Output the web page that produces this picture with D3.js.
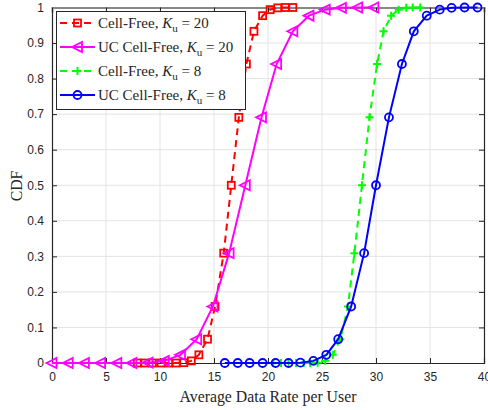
<!DOCTYPE html>
<html>
<head>
<meta charset="utf-8">
<script src="https://cdn.jsdelivr.net/npm/d3@7"></script>
<style>
  body { margin: 0; background: #fff; }
  svg { display: block; }
</style>
</head>
<body>
<div id="container"></div>
<script>
// values
const cdfLevels = [0, 0, 0, 0, 0, 0, 0.001, 0.006, 0.023, 0.067, 0.159, 0.309, 0.5, 0.691, 0.841, 0.933, 0.977, 0.994, 0.999, 1, 1];

const cfK20Rate = [7.9, 8.6, 9.3, 10.1, 10.8, 11.5, 12.2, 12.9, 13.6, 14.4, 15.1, 15.9, 16.6, 17.3, 18.0, 18.7, 19.5, 20.2, 20.9, 21.6, 22.3];
const ucK20Rate = [0, 1.5, 3.0, 4.5, 6.0, 7.4, 8.9, 10.4, 11.9, 13.4, 14.9, 16.4, 17.9, 19.4, 20.8, 22.3, 23.8, 25.3, 26.8, 28.3, 29.8];
const cfK8Rate = [20.5, 21.2, 21.9, 22.6, 23.3, 23.9, 24.6, 25.3, 26.0, 26.7, 27.4, 28.0, 28.7, 29.4, 30.1, 30.7, 31.4, 32.1, 32.8, 33.4, 34.1];
const ucK8Rate = [16.0, 17.2, 18.3, 19.5, 20.7, 21.9, 23.0, 24.2, 25.4, 26.5, 27.7, 28.9, 30.0, 31.2, 32.4, 33.5, 34.7, 35.9, 37.0, 38.2, 39.4];

const seriesNames = ["Cell-Free, ", "UC Cell-Free, ", "Cell-Free, ", "UC Cell-Free, "];
const seriesK = ["20", "20", "8", "8"];
const xTicks = [0, 5, 10, 15, 20, 25, 30, 35, 40];
const yTicks = [0, 0.1, 0.2, 0.3, 0.4, 0.5, 0.6, 0.7, 0.8, 0.9, 1];

const series = [
    {x: cfK20Rate, y: cdfLevels, color: "#ff0000", dash: "7,5", marker: "square"},
    {x: ucK20Rate, y: cdfLevels, color: "#ff00ff", dash: null, marker: "triangle"},
    {x: cfK8Rate, y: cdfLevels, color: "#00ff00", dash: "7,5", marker: "plus"},
    {x: ucK8Rate, y: cdfLevels, color: "#0000ff", dash: null, marker: "circle"}
];

const w = 488, h = 410;
const plotLeft = 52, plotRight = 484, plotTop = 7.5, plotBottom = 363;

const xScale = d3.scaleLinear().domain([0, 40]).range([plotLeft, plotRight]);
const yScale = d3.scaleLinear().domain([0, 1]).range([plotBottom, plotTop]);

let svg = d3.select("#container").append("svg")
    .attr("width", w).attr("height", h);

// grid
svg.append("g").selectAll("line").data(xTicks.slice(1, -1)).enter().append("line")
    .attr("x1", d => xScale(d)).attr("x2", d => xScale(d))
    .attr("y1", plotTop).attr("y2", plotBottom)
    .attr("stroke", "#e3e3e3").attr("stroke-width", 1);
svg.append("g").selectAll("line").data(yTicks.slice(1, -1)).enter().append("line")
    .attr("y1", d => yScale(d)).attr("y2", d => yScale(d))
    .attr("x1", plotLeft).attr("x2", plotRight)
    .attr("stroke", "#e3e3e3").attr("stroke-width", 1);

// axes with inward ticks
const xAxis = d3.axisBottom(xScale).tickValues(xTicks).tickSize(-5).tickPadding(9).tickFormat(d3.format("d"));
const yAxis = d3.axisLeft(yScale).tickValues(yTicks).tickSize(-5).tickPadding(8).tickFormat(d => d === 0 || d === 1 ? d : d3.format(".1f")(d));

let gx = svg.append("g").attr("transform", "translate(0," + plotBottom + ")").call(xAxis);
let gy = svg.append("g").attr("transform", "translate(" + plotLeft + ",0)").call(yAxis);
let gr = svg.append("g").attr("transform", "translate(" + plotRight + ",0)")
    .call(d3.axisRight(yScale).tickValues(yTicks).tickSize(-5).tickFormat(""));
let gt = svg.append("g").attr("transform", "translate(0," + plotTop + ")")
    .call(d3.axisTop(xScale).tickValues(xTicks).tickSize(-5).tickFormat(""));

[gx, gy, gr, gt].forEach(g => {
    g.selectAll("path").attr("stroke", "#262626").attr("stroke-width", 1.2);
    g.selectAll("line").attr("stroke", "#262626");
    g.selectAll("text").attr("fill", "#262626")
        .style("font-family", "'Liberation Sans', Arial, sans-serif").style("font-size", "12px");
});
gt.select("path").attr("stroke", "#888").attr("stroke-width", 2);

// curves
const line = d3.line().x(d => xScale(d[0])).y(d => yScale(d[1]));

function drawMarker(g, type, color, cx, cy) {
    if (type === "square") {
        g.append("rect").attr("x", cx - 3.5).attr("y", cy - 3.5).attr("width", 7).attr("height", 7)
            .attr("fill", "none").attr("stroke", color).attr("stroke-width", 1.8);
    } else if (type === "triangle") {
        g.append("path").attr("d", "M" + (cx - 5.5) + "," + cy + "L" + (cx + 4.5) + "," + (cy - 5) + "L" + (cx + 4.5) + "," + (cy + 5) + "Z")
            .attr("fill", "none").attr("stroke", color).attr("stroke-width", 1.8);
    } else if (type === "plus") {
        g.append("path").attr("d", "M" + (cx - 4) + "," + cy + "H" + (cx + 4) + "M" + cx + "," + (cy - 4) + "V" + (cy + 4))
            .attr("fill", "none").attr("stroke", color).attr("stroke-width", 2);
    } else {
        g.append("circle").attr("cx", cx).attr("cy", cy).attr("r", 4)
            .attr("fill", "none").attr("stroke", color).attr("stroke-width", 1.8);
    }
}

series.forEach(s => {
    const pts = s.x.map((x, i) => [x, s.y[i]]);
    let g = svg.append("g");
    g.append("path").datum(pts).attr("d", line)
        .attr("fill", "none").attr("stroke", s.color).attr("stroke-width", 2)
        .attr("stroke-dasharray", s.dash);
    pts.forEach(p => drawMarker(g, s.marker, s.color, xScale(p[0]), yScale(p[1])));
});

// legend
let legend = svg.append("g");
legend.append("rect").attr("x", 56.5).attr("y", 11.5).attr("width", 189).attr("height", 98)
    .attr("fill", "#fff").attr("stroke", "#262626").attr("stroke-width", 1);
series.forEach((s, i) => {
    const yy = 23 + i * 24;
    legend.append("line").attr("x1", 60).attr("x2", 95).attr("y1", yy).attr("y2", yy)
        .attr("stroke", s.color).attr("stroke-width", 2).attr("stroke-dasharray", s.dash ? "7,5" : null);
    drawMarker(legend, s.marker, s.color, 77.5, yy);
    let t = legend.append("text").attr("x", 98).attr("y", yy + 5)
        .style("font-family", "'Liberation Serif', 'Times New Roman', serif").style("font-size", "15px")
        .attr("fill", "#262626");
    t.append("tspan").text(seriesNames[i]);
    t.append("tspan").style("font-style", "italic").text("K");
    t.append("tspan").attr("dy", 4).style("font-size", "11px").text("u");
    t.append("tspan").attr("dy", -4).text(" = " + seriesK[i]);
});

// axis titles
svg.append("text").attr("x", 268).attr("y", 402).attr("text-anchor", "middle")
    .style("font-family", "'Liberation Serif', 'Times New Roman', serif").style("font-size", "15.8px")
    .attr("fill", "#262626").text("Average Data Rate per User");
svg.append("text").attr("transform", "translate(22,186) rotate(-90)").attr("text-anchor", "middle")
    .style("font-family", "'Liberation Serif', 'Times New Roman', serif").style("font-size", "15.8px")
    .attr("fill", "#262626").text("CDF");
</script>
</body>
</html>
